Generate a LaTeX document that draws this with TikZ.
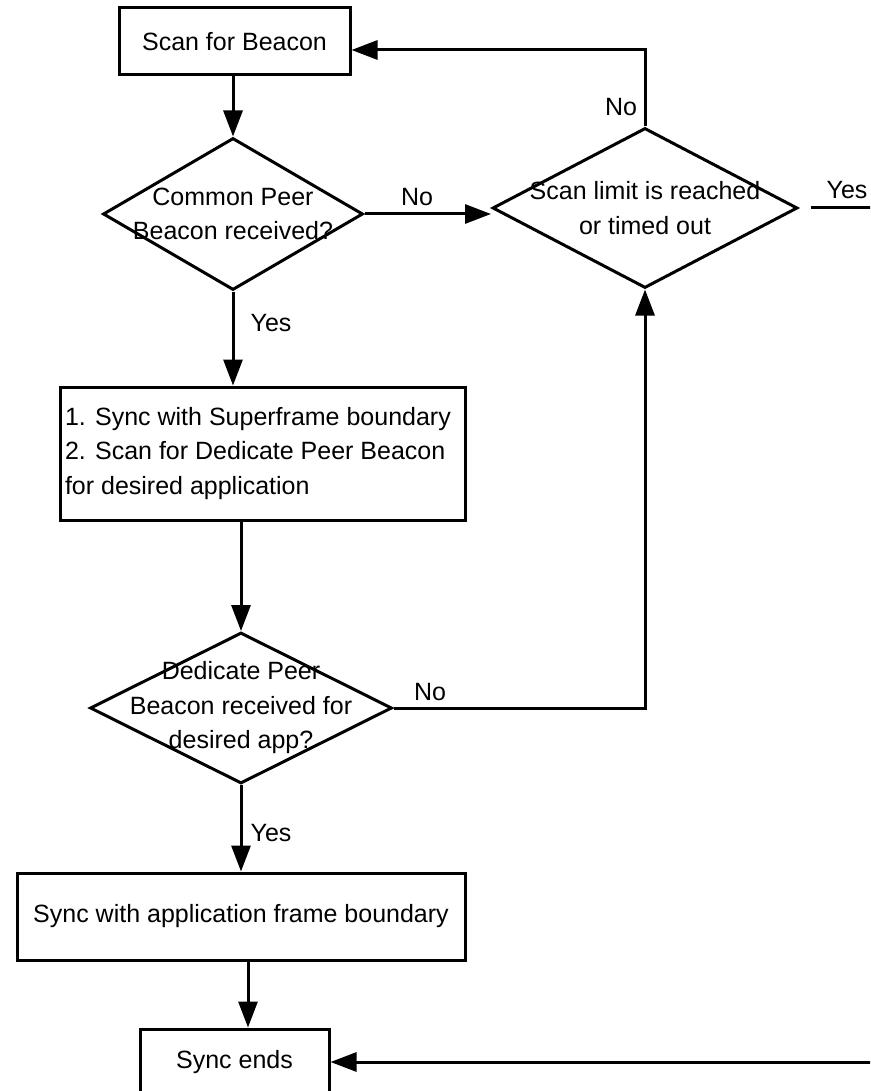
\documentclass[tikz,border=0pt]{standalone}
\usepackage{fontspec}
\setmainfont{Liberation Sans}
\usetikzlibrary{shapes.geometric,arrows.meta,calc}
\begin{document}
\begin{tikzpicture}[x=1pt,y=-1pt,
 line width=3pt,
 font=\fontsize{25}{34.5}\selectfont,
 box/.style={draw, rectangle, inner sep=0pt},
 dia/.style={draw, diamond, inner sep=0pt},
 txt/.style={inner sep=0pt, align=center},
 lbl/.style={inner sep=0pt},
 arr/.style={-{Triangle[length=26pt,width=19pt]}},
]
\useasboundingbox (0,0) rectangle (870,1091);
\clip (0,0) rectangle (870,1091);

\node[box, minimum width=231pt, minimum height=67pt] (b1) at (234.5,41.5) {Scan for Beacon};
\node[dia, minimum width=260pt, minimum height=152pt] (d1) at (233,214) {};
\node[txt] (t1) at (d1.center) {Common Peer\\Beacon received?};
\node[dia, minimum width=305pt, minimum height=160pt] (d2) at (645,208) {};
\node[txt] (t2) at (d2.center) {Scan limit is reached\\or timed out};
\node[box, minimum width=405pt, minimum height=133pt, text width=395pt, align=flush left, inner xsep=5pt] (b3) at (262.5,453.5) {1. Sync with Superframe boundary\\2. Scan for Dedicate Peer Beacon\\for desired application};
\node[dia, minimum width=302pt, minimum height=151pt] (d3) at (241,708) {};
\node[txt] (t3) at (d3.center) {Dedicate Peer\\Beacon received for\\desired app?};
\node[box, minimum width=448pt, minimum height=87pt] (b4) at (241,916.5) {Sync with application frame boundary};
\node[box, minimum width=189pt, minimum height=66pt] (b5) at (234.5,1062) {Sync ends};

\draw[arr] (d1.north |- b1.south) -- (d1.north);
\draw[arr] (d1.south) -- (d1.south |- b3.north);
\draw[arr] (d3.north |- b3.south) -- (d3.north);
\draw[arr] (d3.south) -- (b4.north);
\draw[arr] ([xshift=7pt]b4.south) -- ([xshift=13.5pt]b5.north);
\draw[arr] (d1.east) -- (d1.east -| d2.west);
\draw[arr] (d2.north) |- ([yshift=-8.5pt]b1.east);
\draw[arr] (d3.east) -| (d2.south);
\draw[arr] ([xshift=12pt]d2.east) -- ++(100,0) |- (b5.east);

\node[lbl] (n1) at (417,197) {No};
\node[lbl] (y1) at (271,323) {Yes};
\node[lbl] (n2) at (621,107) {No};
\node[lbl] (y2) at (847,190) {Yes};
\node[lbl] (n3) at (430,692) {No};
\node[lbl] (y3) at (271,833) {Yes};
\end{tikzpicture}
\end{document}
